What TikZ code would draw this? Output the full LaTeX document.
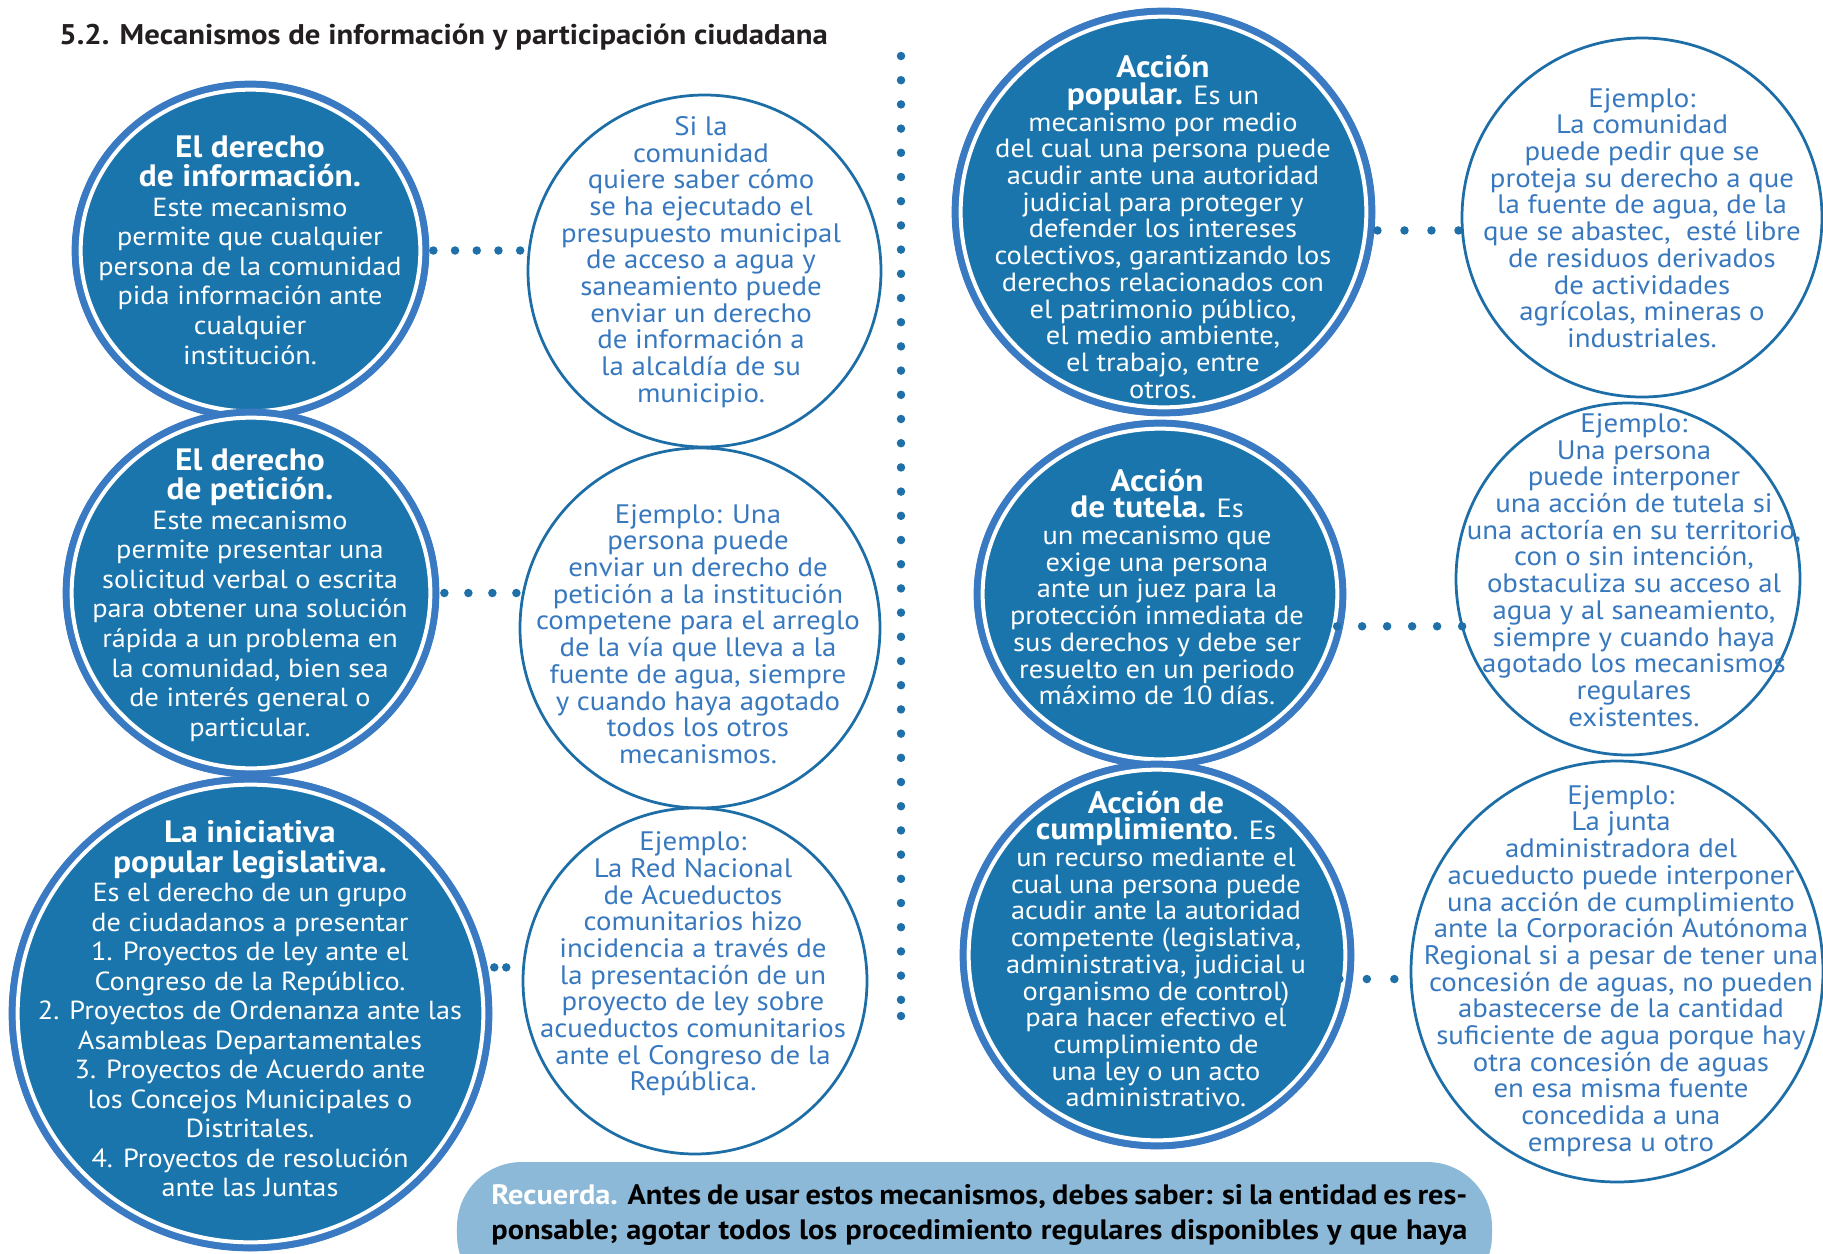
\documentclass[tikz,border=0pt]{standalone}
\usepackage{fontspec}
\setmainfont{PT Sans}[FakeStretch=1.08]
\usetikzlibrary{calc}
\usetikzlibrary{shapes.geometric}

\definecolor{mecfill}{HTML}{1B75AD}
\definecolor{ringcol}{HTML}{3A7AC2}
\definecolor{ejline}{HTML}{1D6EA7}
\definecolor{ejtext}{HTML}{3778BF}
\definecolor{dotcol}{HTML}{1F70A8}
\definecolor{boxcol}{HTML}{8DB9D8}
\definecolor{titlecol}{HTML}{231F20}

\newcommand{\mechead}[1]{{\fontsize{17.6}{16.8}\selectfont\bfseries #1}}

\begin{document}
\begin{tikzpicture}[x=0.2mm, y=-0.2mm,
    mec/.style={ellipse, inner sep=0pt, fill=mecfill},
    ej/.style={ellipse, inner sep=0pt, draw=ejline, line width=0.55mm, fill=white},
    mectxt/.style={align=center, text=white, inner sep=0pt, font=\fontsize{14.9}{16.8}\selectfont},
    mectxtb/.style={mectxt, font=\fontsize{15}{15.2}\selectfont},
    ejtxt/.style={align=center, text=ejtext, inner sep=0pt, font=\fontsize{15.2}{15.2}\selectfont},
    dotline/.style={dotcol, line width=1.7mm, line cap=round, dash pattern=on 0pt off 4.84mm},
    rectxt/.style={anchor=base west, inner sep=0pt, font=\fontsize{16}{18}\selectfont\bfseries}]

    \clip (0,0) rectangle (1823,1254);

    \node[anchor=base west, inner sep=0pt, text=titlecol, font=\fontsize{16.2}{19}\selectfont\bfseries] (titulo) at (59,44) {5.2. Mecanismos de información y participación ciudadana};

    \draw[dotline] (901,56) -- (901,1016);
    \fill[dotcol] (901,1016) circle (0.85mm);

    \node[mec, minimum width=71.4mm, minimum height=67.8mm] (info) at (250.5,250.5) {};
    \node[mec, minimum width=75.2mm, minimum height=73.6mm] (pet) at (251,593) {};
    \node[mec, minimum width=96.6mm, minimum height=95mm] (ini) at (250.5,1013.5) {};
    \node[mec, minimum width=84.6mm, minimum height=81.6mm] (pop) at (1163.5,212) {};
    \node[mec, minimum width=74.4mm, minimum height=69.6mm] (tut) at (1160,594) {};
    \node[mec, minimum width=78.8mm, minimum height=77.6mm] (cum) at (1157,955) {};

    \foreach \m in {info,pet,ini,pop,tut,cum}{
        \draw[ringcol, line width=1.4mm] let \p0=(\m.center), \p1=(\m.east), \p2=(\m.north) in
            (\p0) ellipse ({\x1-\x0-0.7mm} and {\y2-\y0-0.7mm});
        \draw[white, line width=0.8mm] let \p0=(\m.center), \p1=(\m.east), \p2=(\m.north) in
            (\p0) ellipse ({\x1-\x0-1.8mm} and {\y2-\y0-1.8mm});
    }

    \node[ej, minimum width=70.6mm, minimum height=70.4mm] (ej1) at (704.5,271) {};
    \node[ej, minimum width=72mm, minimum height=72mm] (ej2) at (700,628) {};
    \node[ej, minimum width=68.8mm, minimum height=69.2mm] (ej3) at (695,981) {};
    \node[ej, minimum width=72mm, minimum height=71.8mm] (ej4) at (1642,217.5) {};
    \node[ej, minimum width=68.8mm, minimum height=70.4mm] (ej5) at (1628,579) {};
    \node[ej, minimum width=82.4mm, minimum height=84.2mm] (ej6) at (1617,971.5) {};

    \node[mectxt] (info-t) at (250,250) {\mechead{El derecho}\\ \mechead{de información.}\\ Este mecanismo\\ permite que cualquier\\ persona de la comunidad\\ pida información ante\\ cualquier\\ institución.};
    \node[mectxt] (pet-t) at (250,595) {\mechead{El derecho}\\ \mechead{de petición.}\\ Este mecanismo\\ permite presentar una\\ solicitud verbal o escrita\\ para obtener una solución\\ rápida a un problema en\\ la comunidad, bien sea\\ de interés general o\\ particular.};
    \node[mectxt] (ini-t) at (250,1009) {\mechead{La iniciativa}\\ \mechead{popular legislativa.}\\ Es el derecho de un grupo\\ de ciudadanos a presentar\\ 1. Proyectos de ley ante el\\ Congreso de la Repúblico.\\ 2. Proyectos de Ordenanza ante las\\ Asambleas Departamentales\\ 3. Proyectos de Acuerdo ante\\ los Concejos Municipales o\\ Distritales.\\ 4. Proyectos de resolución\\ ante las Juntas};
    \node[mectxtb] (pop-t) at (1163,227) {\mechead{Acción}\\ \mechead{popular.} Es un\\ mecanismo por medio\\ del cual una persona puede\\ acudir ante una autoridad\\ judicial para proteger y\\ defender los intereses\\ colectivos, garantizando los\\ derechos relacionados con\\ el patrimonio público,\\ el medio ambiente,\\ el trabajo, entre\\ otros.};
    \node[mectxtb] (tut-t) at (1157,587) {\mechead{Acción}\\ \mechead{de tutela.} Es\\ un mecanismo que\\ exige una persona\\ ante un juez para la\\ protección inmediata de\\ sus derechos y debe ser\\ resuelto en un periodo\\ máximo de 10 días.};
    \node[mectxtb] (cum-t) at (1156,949) {\mechead{Acción de}\\ \mechead{cumplimiento}. Es\\ un recurso mediante el\\ cual una persona puede\\ acudir ante la autoridad\\ competente (legislativa,\\ administrativa, judicial u\\ organismo de control)\\ para hacer efectivo el\\ cumplimiento de\\ una ley o un acto\\ administrativo.};

    \node[ejtxt] (ej1-t) at (701,262) {Si la\\ comunidad\\ quiere saber cómo\\ se ha ejecutado el\\ presupuesto municipal\\ de acceso a agua y\\ saneamiento puede\\ enviar un derecho\\ de información a\\ la alcaldía de su\\ municipio.};
    \node[ejtxt] (ej2-t) at (698,634) {Ejemplo: Una\\ persona puede\\ enviar un derecho de\\ petición a la institución\\ competene para el arreglo\\ de la vía que lleva a la\\ fuente de agua, siempre\\ y cuando haya agotado\\ todos los otros\\ mecanismos.};
    \node[ejtxt] (ej3-t) at (693,964) {Ejemplo:\\ La Red Nacional\\ de Acueductos\\ comunitarios hizo\\ incidencia a través de\\ la presentación de un\\ proyecto de ley sobre\\ acueductos comunitarios\\ ante el Congreso de la\\ República.};
    \node[ejtxt] (ej4-t) at (1642,218) {Ejemplo:\\ La comunidad\\ puede pedir que se\\ proteja su derecho a que\\ la fuente de agua, de la\\ que se abastec,\ \ esté libre\\ de residuos derivados\\ de actividades\\ agrícolas, mineras o\\ industriales.};
    \node[ejtxt] (ej5-t) at (1634,570) {Ejemplo:\\ Una persona\\ puede interponer\\ una acción de tutela si\\ una actoría en su territorio,\\ con o sin intención,\\ obstaculiza su acceso al\\ agua y al saneamiento,\\ siempre y cuando haya\\ agotado los mecanismos\\ regulares\\ existentes.};
    \node[ejtxt] (ej6-t) at (1621,971) {Ejemplo:\\ La junta\\ administradora del\\ acueducto puede interponer\\ una acción de cumplimiento\\ ante la Corporación Autónoma\\ Regional si a pesar de tener una\\ concesión de aguas, no pueden\\ abastecerse de la cantidad\\ suficiente de agua porque hay\\ otra concesión de aguas\\ en esa misma fuente\\ concedida a una\\ empresa u otro};

    \draw[dotline, dash pattern=on 0pt off 4.34mm, shorten <=0.8mm] (info.east) -- (info.east -| ej1.west);
    \draw[dotline, dash pattern=on 0pt off 4.8mm, shorten <=1mm] (pet.east) -- (pet.east -| ej2.west);
    \draw[dotline, dash pattern=on 0pt off 2.4mm, shorten <=1.3mm, shorten >=2.2mm] (ini.11) -- (ini.11 -| ej3.west);
    \draw[dotline, dash pattern=on 0pt off 5.4mm, shorten <=0.6mm] (pop.-5) -- (pop.-5 -| ej4.west);
    \draw[dotline, dash pattern=on 0pt off 5mm, shorten <=-1.2mm, shorten >=-1.6mm] (tut.-10) -- (tut.-10 -| ej5.west);
    \draw[dotline, dash pattern=on 0pt off 5.5mm, shorten <=-2.7mm, shorten >=2.4mm] (cum.-7) -- (cum.-7 -| ej6.west);

    \node[fill=boxcol, rounded corners=13mm, minimum width=207mm, minimum height=27.6mm, inner sep=0pt] (recuerda) at (974.5,1231) {};
    \node[rectxt] (rec1) at (491,1204) {\makebox[195.2mm][s]{\textcolor{white}{Recuerda.} Antes de usar estos mecanismos, debes saber: si la entidad es res-}};
    \node[rectxt] (rec2) at (491,1239) {\makebox[195.2mm][s]{ponsable; agotar todos los procedimiento regulares disponibles y que haya}};
\end{tikzpicture}
\end{document}
